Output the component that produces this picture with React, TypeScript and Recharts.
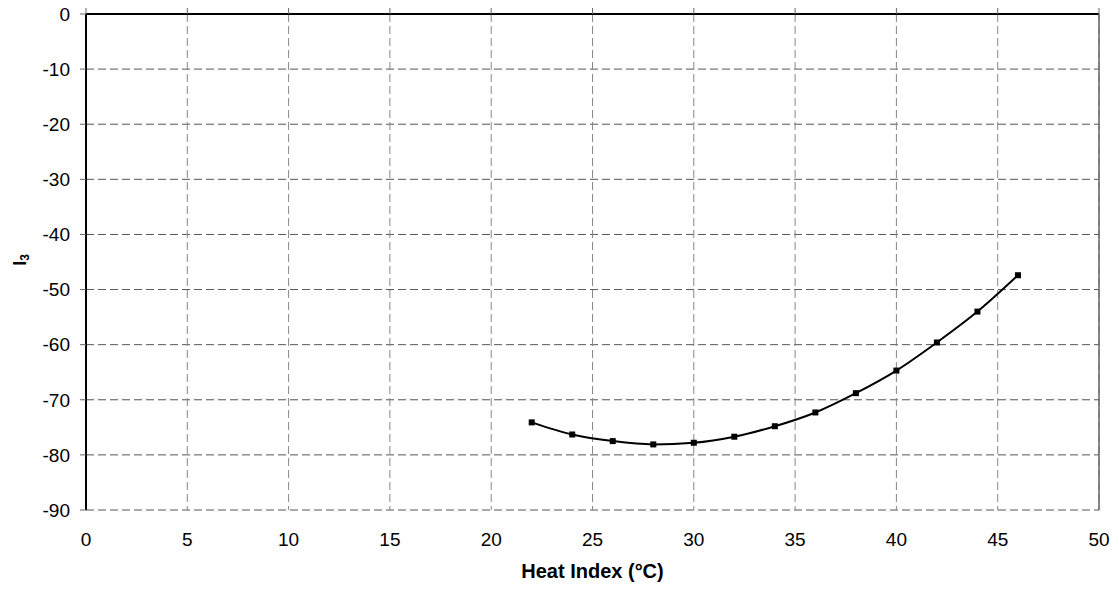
import { LineChart, Line, XAxis, YAxis, CartesianGrid, ReferenceLine } from 'recharts';

const heatIndex = [22, 24, 26, 28, 30, 32, 34, 36, 38, 40, 42, 44, 46];
const i3Values = [-74.1, -76.3, -77.5, -78.1, -77.8, -76.7, -74.8, -72.3, -68.8, -64.7, -59.6, -54.0, -47.4];
const xTicks = [0, 5, 10, 15, 20, 25, 30, 35, 40, 45, 50];
const yTicks = [0, -10, -20, -30, -40, -50, -60, -70, -80, -90];

const data = heatIndex.map((x, i) => ({ x, y: i3Values[i] }));

const font = 'Liberation Sans, Arial, sans-serif';

const SquareDot = (props: any) => {
  const { cx, cy, index } = props;
  if (cx == null || cy == null) return null;
  return <rect key={index} x={cx - 3} y={cy - 3} width={6} height={6} fill="#000" />;
};

// top axis: only short tick marks, no labels
const TopTickMark = (props: any) => {
  const { x, y } = props;
  return <line x1={x} x2={x} y1={y - 6} y2={y} stroke="#666" strokeWidth={1} />;
};

const YLabel = (props: any) => {
  const { viewBox } = props;
  const cy = viewBox.y + viewBox.height / 2 - 2;
  return (
    <text
      x={0}
      y={0}
      transform={`translate(26, ${cy}) rotate(-90)`}
      textAnchor="middle"
      fontFamily={font}
      fontWeight="bold"
      fontSize={18}
      fill="#000"
    >
      I<tspan fontSize={12} dy={3}>3</tspan>
    </text>
  );
};

const App = () => {
  return (
    <div style={{ position: 'absolute', left: 0, top: 0 }}>
      <LineChart
        width={1119}
        height={590}
        data={data}
        margin={{ top: 6, right: 20, bottom: 0, left: 0 }}
      >
        <CartesianGrid vertical={false} stroke="#555" strokeDasharray="8 4" />
        <CartesianGrid horizontal={false} stroke="#888" strokeDasharray="8 4" />
        <XAxis
          xAxisId="top"
          orientation="top"
          type="number"
          dataKey="x"
          domain={[0, 50]}
          ticks={xTicks}
          height={8}
          tickSize={0}
          tickMargin={0}
          axisLine={false}
          tickLine={false}
          tick={<TopTickMark />}
        />
        <XAxis
          type="number"
          dataKey="x"
          domain={[0, 50]}
          ticks={xTicks}
          height={80}
          axisLine={false}
          tickLine={false}
          tickSize={21}
          tick={{ fill: '#000', fontSize: 19, fontFamily: font }}
          label={{
            value: 'Heat Index (°C)',
            position: 'insideBottom',
            offset: 12,
            style: { fill: '#000', fontSize: 20, fontWeight: 'bold', fontFamily: font },
          }}
        />
        <YAxis
          type="number"
          domain={[-90, 0]}
          ticks={yTicks}
          width={86}
          interval={0}
          axisLine={{ stroke: '#000', strokeWidth: 2 }}
          tickLine={{ stroke: '#666' }}
          tickSize={6}
          tickMargin={10}
          tick={{ fill: '#000', fontSize: 19, fontFamily: font }}
          label={<YLabel />}
        />
        <ReferenceLine y={0} stroke="#000" strokeWidth={2} />
        <ReferenceLine x={50} stroke="#666" strokeWidth={1.5} />
        <Line
          type="monotone"
          dataKey="y"
          stroke="#000"
          strokeWidth={2}
          dot={<SquareDot />}
          activeDot={false}
          isAnimationActive={false}
        />
      </LineChart>
    </div>
  );
};

export default App;
